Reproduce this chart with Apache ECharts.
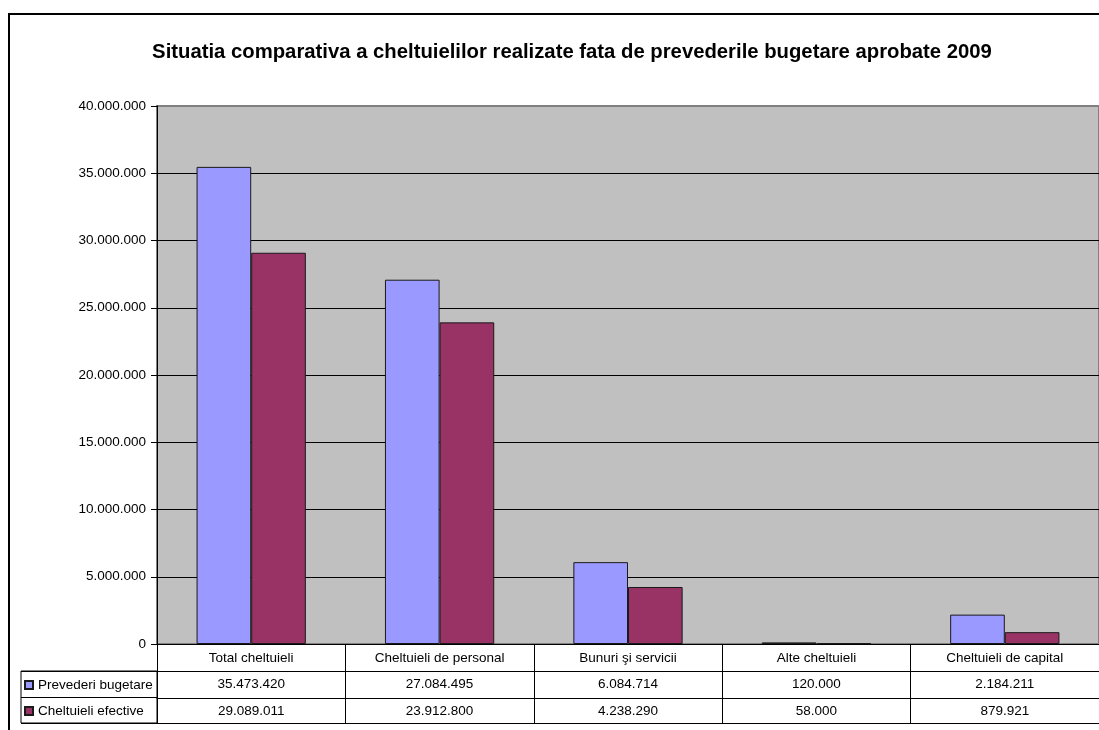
<!DOCTYPE html>
<html>
<head>
<meta charset="utf-8">
<script src="https://cdn.jsdelivr.net/npm/echarts@6/dist/echarts.min.js"></script>
<style>
  html, body { margin: 0; padding: 0; background: #fff; overflow: hidden; }
  #chart { position: absolute; left: 0; top: 0; width: 1099px; height: 730px; }
  #frame { position: absolute; left: 8px; top: 13px; width: 1200px; height: 800px; border: 2px solid #000; box-sizing: border-box; pointer-events: none; }
</style>
</head>
<body>
<div id="frame"></div>
<div id="chart"></div>
<script>
const titleText = 'Situatia comparativa a cheltuielilor realizate fata de prevederile bugetare aprobate 2009';
const categories = ['Total cheltuieli', 'Cheltuieli de personal', 'Bunuri şi servicii', 'Alte cheltuieli', 'Cheltuieli de capital'];
const seriesNames = ['Prevederi bugetare', 'Cheltuieli efective'];
const prevederi = [35473420, 27084495, 6084714, 120000, 2184211];
const efective = [29089011, 23912800, 4238290, 58000, 879921];
const yMin = 0, yMax = 40000000, yInterval = 5000000;

function fmt(n) {
  return String(Math.round(n)).replace(/\B(?=(\d{3})+(?!\d))/g, '.');
}

const FONT = "'Liberation Sans', Arial, sans-serif";
const FS = 13.5;

const chart = echarts.init(document.getElementById('chart'));
const baseLabel = { color: '#000', fontFamily: FONT, fontSize: FS };
const splitColors = ['#000', '#000', '#000', '#000', '#000', '#000', '#000', '#000', '#808080'];

chart.setOption({
  animation: false,
  title: {
    text: titleText,
    left: 567, top: 37, textAlign: 'center',
    textStyle: { fontFamily: FONT, fontWeight: 'bold', fontSize: 20.3, color: '#000' }
  },
  legend: {
    orient: 'vertical', left: 24, top: 677, padding: 0,
    itemWidth: 8, itemHeight: 8, itemGap: 10,
    icon: 'rect',
    data: seriesNames,
    textStyle: { color: '#000', fontFamily: FONT, fontSize: FS, lineHeight: 16 }
  },
  grid: [
    { left: 157, right: 0, top: 106, bottom: 86, show: true, backgroundColor: '#C0C0C0', borderColor: '#808080', borderWidth: 2 },
    { left: 21, top: 671, width: 136, height: 52, show: true, backgroundColor: 'transparent', borderColor: '#000', borderWidth: 1 }
  ],
  xAxis: [
    { type: 'category', gridIndex: 0, data: categories, position: 'bottom',
      axisLine: { lineStyle: { color: '#000', width: 1 } },
      axisTick: { show: true, length: 27, lineStyle: { color: '#000' } },
      axisLabel: Object.assign({ interval: 0, margin: 7 }, baseLabel) },
    { type: 'category', gridIndex: 0, data: prevederi.map(fmt), position: 'bottom', offset: 27,
      axisLine: { lineStyle: { color: '#000', width: 1 } },
      axisTick: { show: true, length: 27, lineStyle: { color: '#000' } },
      axisLabel: Object.assign({ interval: 0, margin: 6 }, baseLabel) },
    { type: 'category', gridIndex: 0, data: efective.map(fmt), position: 'bottom', offset: 54,
      axisLine: { lineStyle: { color: '#000', width: 1 } },
      axisTick: { show: true, length: 25, lineStyle: { color: '#000' } },
      axisLabel: Object.assign({ interval: 0, margin: 6 }, baseLabel) },
    { type: 'category', gridIndex: 0, data: categories, position: 'bottom', offset: 79,
      axisLine: { lineStyle: { color: '#000', width: 1 } },
      axisTick: { show: false }, axisLabel: { show: false } },
    { type: 'value', gridIndex: 1, show: false }
  ],
  yAxis: [
    { type: 'value', gridIndex: 0, min: yMin, max: yMax, interval: yInterval,
      axisLine: { show: true, lineStyle: { color: '#000', width: 1 } },
      axisTick: { show: true, length: 6, lineStyle: { color: '#000' } },
      splitLine: { show: true, showMaxLine: false, lineStyle: { color: splitColors, width: 1 } },
      axisLabel: Object.assign({ margin: 11, formatter: v => fmt(v) }, baseLabel) },
    { type: 'category', gridIndex: 1, data: seriesNames, inverse: true,
      axisLine: { show: false }, axisTick: { show: false }, axisLabel: { show: false },
      splitLine: { show: true, lineStyle: { color: '#000', width: 1 } } }
  ],
  series: [
    { name: seriesNames[0], type: 'bar', xAxisIndex: 0, yAxisIndex: 0, data: prevederi,
      barGap: '0%', barCategoryGap: '42%',
      itemStyle: { color: '#9999FF', borderColor: '#1a1a1a', borderWidth: 1 } },
    { name: seriesNames[1], type: 'bar', xAxisIndex: 0, yAxisIndex: 0, data: efective,
      barGap: '0%', barCategoryGap: '42%',
      itemStyle: { color: '#993366', borderColor: '#1a1a1a', borderWidth: 1 } }
  ]
});
</script>
</body>
</html>
